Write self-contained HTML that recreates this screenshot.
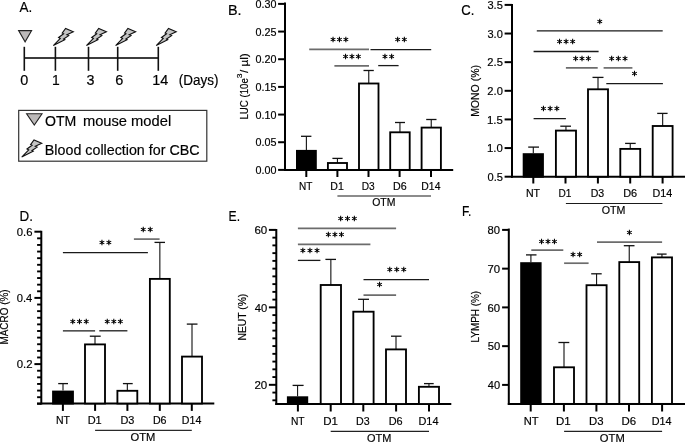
<!DOCTYPE html>
<html><head><meta charset="utf-8"><style>
html,body{margin:0;padding:0;background:#fff;}
body{width:685px;height:442px;overflow:hidden;}
svg{display:block;will-change:transform;}
text{stroke:#000;stroke-width:0.18px;font-family:"Liberation Sans",sans-serif;}
</style></head><body>
<svg width="685" height="442" viewBox="0 0 685 442">

<text x="19.57" y="11.70" font-size="14.54" textLength="12.76" lengthAdjust="spacingAndGlyphs" fill="#000">A.</text>
<polygon points="18.6,30.6 31.6,30.6 25.1,41.8" fill="#bcb9b9" stroke="#222" stroke-width="1.1"/>
<line x1="24.30" y1="57.90" x2="158.30" y2="57.90" stroke="#3c3c3c" stroke-width="2.0"/>
<line x1="24.30" y1="46.80" x2="24.30" y2="70.80" stroke="#111" stroke-width="1.6"/>
<line x1="55.40" y1="46.80" x2="55.40" y2="70.80" stroke="#111" stroke-width="1.6"/>
<line x1="88.50" y1="46.80" x2="88.50" y2="70.80" stroke="#111" stroke-width="1.6"/>
<line x1="117.70" y1="46.80" x2="117.70" y2="70.80" stroke="#111" stroke-width="1.6"/>
<line x1="158.30" y1="46.80" x2="158.30" y2="70.80" stroke="#111" stroke-width="1.6"/>
<polygon points="53.30,45.60 60.30,38.40 58.60,37.50 63.60,33.80 62.20,33.10 65.60,28.50 73.30,31.80 66.90,34.80 68.70,35.60 63.60,39.00 64.80,39.70" fill="#c4c4c4" stroke="#111" stroke-width="1.1" stroke-linejoin="miter"/>
<polygon points="86.40,45.60 93.40,38.40 91.70,37.50 96.70,33.80 95.30,33.10 98.70,28.50 106.40,31.80 100.00,34.80 101.80,35.60 96.70,39.00 97.90,39.70" fill="#c4c4c4" stroke="#111" stroke-width="1.1" stroke-linejoin="miter"/>
<polygon points="115.60,45.60 122.60,38.40 120.90,37.50 125.90,33.80 124.50,33.10 127.90,28.50 135.60,31.80 129.20,34.80 131.00,35.60 125.90,39.00 127.10,39.70" fill="#c4c4c4" stroke="#111" stroke-width="1.1" stroke-linejoin="miter"/>
<polygon points="156.20,45.60 163.20,38.40 161.50,37.50 166.50,33.80 165.10,33.10 168.50,28.50 176.20,31.80 169.80,34.80 171.60,35.60 166.50,39.00 167.70,39.70" fill="#c4c4c4" stroke="#111" stroke-width="1.1" stroke-linejoin="miter"/>
<text x="20.24" y="84.50" font-size="14.54" textLength="8.03" lengthAdjust="spacingAndGlyphs" fill="#000">0</text>
<text x="51.94" y="84.50" font-size="14.54" textLength="7.74" lengthAdjust="spacingAndGlyphs" fill="#000">1</text>
<text x="86.55" y="84.50" font-size="14.54" textLength="7.98" lengthAdjust="spacingAndGlyphs" fill="#000">3</text>
<text x="115.16" y="84.50" font-size="14.54" textLength="8.08" lengthAdjust="spacingAndGlyphs" fill="#000">6</text>
<text x="152.30" y="84.50" font-size="14.54" textLength="16.02" lengthAdjust="spacingAndGlyphs" fill="#000">14</text>
<text x="178.76" y="84.60" font-size="14.24" textLength="39.67" lengthAdjust="spacingAndGlyphs" fill="#000">(Days)</text>
<rect x="18.7" y="110.4" width="188.1" height="50.8" fill="none" stroke="#333" stroke-width="1.2"/>
<polygon points="26.6,113.7 42.0,113.7 34.3,125.0" fill="#bcb9b9" stroke="#222" stroke-width="1.1"/>
<text x="45.03" y="125.70" font-size="14.24" textLength="31.32" lengthAdjust="spacingAndGlyphs" fill="#000">OTM</text>
<text x="82.92" y="125.70" font-size="14.24" textLength="88.26" lengthAdjust="spacingAndGlyphs" fill="#000">mouse model</text>
<polygon points="21.70,157.10 28.70,149.90 27.00,149.00 32.00,145.30 30.60,144.60 34.00,140.00 41.70,143.30 35.30,146.30 37.10,147.10 32.00,150.50 33.20,151.20" fill="#c4c4c4" stroke="#111" stroke-width="1.1" stroke-linejoin="miter"/>
<text x="44.83" y="154.70" font-size="14.24" textLength="154.71" lengthAdjust="spacingAndGlyphs" fill="#000">Blood collection for CBC</text>
<text x="227.92" y="14.90" font-size="13.95" textLength="13.59" lengthAdjust="spacingAndGlyphs" fill="#000">B.</text>
<line x1="285.00" y1="2.60" x2="285.00" y2="170.90" stroke="#000" stroke-width="2.0"/>
<line x1="284.00" y1="169.90" x2="453.20" y2="169.90" stroke="#000" stroke-width="2.0"/>
<line x1="278.10" y1="3.90" x2="285.00" y2="3.90" stroke="#000" stroke-width="2.0"/>
<text x="255.48" y="8.00" font-size="10.76" textLength="20.94" lengthAdjust="spacingAndGlyphs" fill="#000">0.30</text>
<line x1="278.10" y1="31.57" x2="285.00" y2="31.57" stroke="#000" stroke-width="2.0"/>
<text x="255.48" y="35.67" font-size="10.76" textLength="20.97" lengthAdjust="spacingAndGlyphs" fill="#000">0.25</text>
<line x1="278.10" y1="59.23" x2="285.00" y2="59.23" stroke="#000" stroke-width="2.0"/>
<text x="255.48" y="63.33" font-size="10.76" textLength="20.94" lengthAdjust="spacingAndGlyphs" fill="#000">0.20</text>
<line x1="278.10" y1="86.90" x2="285.00" y2="86.90" stroke="#000" stroke-width="2.0"/>
<text x="255.48" y="91.00" font-size="10.76" textLength="20.97" lengthAdjust="spacingAndGlyphs" fill="#000">0.15</text>
<line x1="278.10" y1="114.57" x2="285.00" y2="114.57" stroke="#000" stroke-width="2.0"/>
<text x="255.48" y="118.67" font-size="10.76" textLength="20.94" lengthAdjust="spacingAndGlyphs" fill="#000">0.10</text>
<line x1="278.10" y1="142.23" x2="285.00" y2="142.23" stroke="#000" stroke-width="2.0"/>
<text x="255.48" y="146.33" font-size="10.76" textLength="20.97" lengthAdjust="spacingAndGlyphs" fill="#000">0.05</text>
<line x1="278.10" y1="169.90" x2="285.00" y2="169.90" stroke="#000" stroke-width="2.0"/>
<text x="255.48" y="174.00" font-size="10.76" textLength="20.94" lengthAdjust="spacingAndGlyphs" fill="#000">0.00</text>
<line x1="306.30" y1="169.90" x2="306.30" y2="177.00" stroke="#000" stroke-width="2.0"/>
<line x1="337.40" y1="169.90" x2="337.40" y2="177.00" stroke="#000" stroke-width="2.0"/>
<line x1="368.50" y1="169.90" x2="368.50" y2="177.00" stroke="#000" stroke-width="2.0"/>
<line x1="399.60" y1="169.90" x2="399.60" y2="177.00" stroke="#000" stroke-width="2.0"/>
<line x1="431.00" y1="169.90" x2="431.00" y2="177.00" stroke="#000" stroke-width="2.0"/>
<line x1="306.40" y1="136.30" x2="306.40" y2="149.90" stroke="#1a1a1a" stroke-width="1.15"/>
<line x1="301.00" y1="136.30" x2="311.40" y2="136.30" stroke="#111" stroke-width="1.3"/>
<rect x="296.00" y="149.90" width="20.80" height="21.00" fill="#000"/>
<line x1="337.45" y1="158.40" x2="337.45" y2="163.00" stroke="#1a1a1a" stroke-width="1.15"/>
<line x1="332.40" y1="158.40" x2="342.60" y2="158.40" stroke="#111" stroke-width="1.3"/>
<rect x="327.90" y="163.00" width="19.10" height="6.90" fill="#fff" stroke="#000" stroke-width="1.85"/>
<line x1="368.75" y1="70.50" x2="368.75" y2="83.50" stroke="#1a1a1a" stroke-width="1.15"/>
<line x1="363.50" y1="70.50" x2="373.80" y2="70.50" stroke="#111" stroke-width="1.3"/>
<rect x="359.00" y="83.50" width="19.50" height="86.40" fill="#fff" stroke="#000" stroke-width="1.85"/>
<line x1="399.95" y1="122.50" x2="399.95" y2="132.30" stroke="#1a1a1a" stroke-width="1.15"/>
<line x1="395.00" y1="122.50" x2="405.00" y2="122.50" stroke="#111" stroke-width="1.3"/>
<rect x="390.20" y="132.30" width="19.50" height="37.60" fill="#fff" stroke="#000" stroke-width="1.85"/>
<line x1="431.25" y1="119.50" x2="431.25" y2="127.60" stroke="#1a1a1a" stroke-width="1.15"/>
<line x1="426.20" y1="119.50" x2="436.50" y2="119.50" stroke="#111" stroke-width="1.3"/>
<rect x="421.60" y="127.60" width="19.30" height="42.30" fill="#fff" stroke="#000" stroke-width="1.85"/>
<text x="298.98" y="190.00" font-size="11.05" textLength="13.35" lengthAdjust="spacingAndGlyphs" fill="#000">NT</text>
<text x="330.33" y="190.00" font-size="11.05" textLength="13.48" lengthAdjust="spacingAndGlyphs" fill="#000">D1</text>
<text x="361.77" y="190.00" font-size="11.05" textLength="12.98" lengthAdjust="spacingAndGlyphs" fill="#000">D3</text>
<text x="393.02" y="190.00" font-size="11.05" textLength="13.64" lengthAdjust="spacingAndGlyphs" fill="#000">D6</text>
<text x="421.35" y="190.00" font-size="11.05" textLength="19.06" lengthAdjust="spacingAndGlyphs" fill="#000">D14</text>
<line x1="337.40" y1="196.00" x2="431.00" y2="196.00" stroke="#666" stroke-width="1.4"/>
<text x="372.20" y="206.20" font-size="10.76" textLength="23.25" lengthAdjust="spacingAndGlyphs" fill="#000">OTM</text>
<line x1="309.20" y1="49.40" x2="369.00" y2="49.40" stroke="#6c6c6c" stroke-width="1.7"/>
<path d="M333.05 36.75L333.05 42.25M330.67 38.12L335.43 40.88M330.67 40.88L335.43 38.12" stroke="#000" stroke-width="1.05" fill="none"/>
<circle cx="333.05" cy="39.50" r="1.05" fill="#000"/>
<path d="M339.45 36.75L339.45 42.25M337.07 38.12L341.83 40.88M337.07 40.88L341.83 38.12" stroke="#000" stroke-width="1.05" fill="none"/>
<circle cx="339.45" cy="39.50" r="1.05" fill="#000"/>
<path d="M345.85 36.75L345.85 42.25M343.47 38.12L348.23 40.88M343.47 40.88L348.23 38.12" stroke="#000" stroke-width="1.05" fill="none"/>
<circle cx="345.85" cy="39.50" r="1.05" fill="#000"/>
<line x1="370.50" y1="49.70" x2="431.20" y2="49.70" stroke="#1a1a1a" stroke-width="1.3"/>
<path d="M397.65 36.75L397.65 42.25M395.27 38.12L400.03 40.88M395.27 40.88L400.03 38.12" stroke="#000" stroke-width="1.05" fill="none"/>
<circle cx="397.65" cy="39.50" r="1.05" fill="#000"/>
<path d="M404.35 36.75L404.35 42.25M401.97 38.12L406.73 40.88M401.97 40.88L406.73 38.12" stroke="#000" stroke-width="1.05" fill="none"/>
<circle cx="404.35" cy="39.50" r="1.05" fill="#000"/>
<line x1="334.40" y1="65.80" x2="369.00" y2="65.80" stroke="#6c6c6c" stroke-width="1.7"/>
<path d="M345.55 53.75L345.55 59.25M343.17 55.12L347.93 57.88M343.17 57.88L347.93 55.12" stroke="#000" stroke-width="1.05" fill="none"/>
<circle cx="345.55" cy="56.50" r="1.05" fill="#000"/>
<path d="M351.95 53.75L351.95 59.25M349.57 55.12L354.33 57.88M349.57 57.88L354.33 55.12" stroke="#000" stroke-width="1.05" fill="none"/>
<circle cx="351.95" cy="56.50" r="1.05" fill="#000"/>
<path d="M358.35 53.75L358.35 59.25M355.97 55.12L360.73 57.88M355.97 57.88L360.73 55.12" stroke="#000" stroke-width="1.05" fill="none"/>
<circle cx="358.35" cy="56.50" r="1.05" fill="#000"/>
<line x1="378.20" y1="65.60" x2="398.60" y2="65.60" stroke="#1a1a1a" stroke-width="1.3"/>
<path d="M384.95 53.75L384.95 59.25M382.57 55.12L387.33 57.88M382.57 57.88L387.33 55.12" stroke="#000" stroke-width="1.05" fill="none"/>
<circle cx="384.95" cy="56.50" r="1.05" fill="#000"/>
<path d="M391.65 53.75L391.65 59.25M389.27 55.12L394.03 57.88M389.27 57.88L394.03 55.12" stroke="#000" stroke-width="1.05" fill="none"/>
<circle cx="391.65" cy="56.50" r="1.05" fill="#000"/>
<text transform="translate(248.00,118.80) rotate(-90)" x="-0.79" y="0" font-size="11.05" textLength="41.42" lengthAdjust="spacingAndGlyphs" fill="#000">LUC (10e</text>
<text transform="translate(241.60,78.00) rotate(-90)" x="-0.33" y="0" font-size="6.69" textLength="4.81" lengthAdjust="spacingAndGlyphs" fill="#000">3</text>
<text transform="translate(248.00,73.00) rotate(-90)" x="0.00" y="0" font-size="11.05" textLength="19.73" lengthAdjust="spacingAndGlyphs" fill="#000">/ µl)</text>
<text x="461.24" y="15.40" font-size="13.95" textLength="13.05" lengthAdjust="spacingAndGlyphs" fill="#000">C.</text>
<line x1="512.00" y1="4.00" x2="512.00" y2="177.70" stroke="#000" stroke-width="2.0"/>
<line x1="511.00" y1="176.70" x2="685.00" y2="176.70" stroke="#000" stroke-width="2.0"/>
<line x1="504.60" y1="4.90" x2="512.00" y2="4.90" stroke="#000" stroke-width="2.0"/>
<text x="487.48" y="9.10" font-size="11.05" textLength="15.39" lengthAdjust="spacingAndGlyphs" fill="#000">3.5</text>
<line x1="504.60" y1="33.53" x2="512.00" y2="33.53" stroke="#000" stroke-width="2.0"/>
<text x="487.48" y="37.73" font-size="11.05" textLength="15.35" lengthAdjust="spacingAndGlyphs" fill="#000">3.0</text>
<line x1="504.60" y1="62.17" x2="512.00" y2="62.17" stroke="#000" stroke-width="2.0"/>
<text x="487.34" y="66.37" font-size="11.05" textLength="15.53" lengthAdjust="spacingAndGlyphs" fill="#000">2.5</text>
<line x1="504.60" y1="90.80" x2="512.00" y2="90.80" stroke="#000" stroke-width="2.0"/>
<text x="487.34" y="95.00" font-size="11.05" textLength="15.50" lengthAdjust="spacingAndGlyphs" fill="#000">2.0</text>
<line x1="504.60" y1="119.43" x2="512.00" y2="119.43" stroke="#000" stroke-width="2.0"/>
<text x="487.03" y="123.63" font-size="11.05" textLength="15.85" lengthAdjust="spacingAndGlyphs" fill="#000">1.5</text>
<line x1="504.60" y1="148.07" x2="512.00" y2="148.07" stroke="#000" stroke-width="2.0"/>
<text x="487.03" y="152.27" font-size="11.05" textLength="15.81" lengthAdjust="spacingAndGlyphs" fill="#000">1.0</text>
<line x1="504.60" y1="176.70" x2="512.00" y2="176.70" stroke="#000" stroke-width="2.0"/>
<text x="487.47" y="180.90" font-size="11.05" textLength="15.40" lengthAdjust="spacingAndGlyphs" fill="#000">0.5</text>
<line x1="533.30" y1="176.70" x2="533.30" y2="183.50" stroke="#000" stroke-width="2.0"/>
<line x1="565.50" y1="176.70" x2="565.50" y2="183.50" stroke="#000" stroke-width="2.0"/>
<line x1="597.90" y1="176.70" x2="597.90" y2="183.50" stroke="#000" stroke-width="2.0"/>
<line x1="630.20" y1="176.70" x2="630.20" y2="183.50" stroke="#000" stroke-width="2.0"/>
<line x1="662.60" y1="176.70" x2="662.60" y2="183.50" stroke="#000" stroke-width="2.0"/>
<line x1="533.30" y1="147.10" x2="533.30" y2="153.20" stroke="#1a1a1a" stroke-width="1.15"/>
<line x1="528.20" y1="147.10" x2="539.00" y2="147.10" stroke="#111" stroke-width="1.3"/>
<rect x="522.70" y="153.20" width="21.20" height="24.50" fill="#000"/>
<line x1="565.95" y1="126.20" x2="565.95" y2="130.60" stroke="#1a1a1a" stroke-width="1.15"/>
<line x1="560.30" y1="126.20" x2="571.00" y2="126.20" stroke="#111" stroke-width="1.3"/>
<rect x="555.90" y="130.60" width="20.10" height="46.10" fill="#fff" stroke="#000" stroke-width="1.85"/>
<line x1="598.00" y1="77.40" x2="598.00" y2="89.30" stroke="#1a1a1a" stroke-width="1.15"/>
<line x1="592.50" y1="77.40" x2="603.50" y2="77.40" stroke="#111" stroke-width="1.3"/>
<rect x="588.00" y="89.30" width="20.00" height="87.40" fill="#fff" stroke="#000" stroke-width="1.85"/>
<line x1="630.25" y1="143.40" x2="630.25" y2="148.90" stroke="#1a1a1a" stroke-width="1.15"/>
<line x1="625.10" y1="143.40" x2="635.70" y2="143.40" stroke="#111" stroke-width="1.3"/>
<rect x="620.30" y="148.90" width="19.90" height="27.80" fill="#fff" stroke="#000" stroke-width="1.85"/>
<line x1="662.65" y1="113.40" x2="662.65" y2="126.00" stroke="#1a1a1a" stroke-width="1.15"/>
<line x1="657.20" y1="113.40" x2="667.60" y2="113.40" stroke="#111" stroke-width="1.3"/>
<rect x="652.70" y="126.00" width="19.90" height="50.70" fill="#fff" stroke="#000" stroke-width="1.85"/>
<text x="525.93" y="197.00" font-size="11.05" textLength="14.11" lengthAdjust="spacingAndGlyphs" fill="#000">NT</text>
<text x="558.57" y="197.00" font-size="11.05" textLength="12.92" lengthAdjust="spacingAndGlyphs" fill="#000">D1</text>
<text x="590.73" y="197.00" font-size="11.05" textLength="13.53" lengthAdjust="spacingAndGlyphs" fill="#000">D3</text>
<text x="623.20" y="197.00" font-size="11.05" textLength="13.98" lengthAdjust="spacingAndGlyphs" fill="#000">D6</text>
<text x="652.51" y="197.00" font-size="11.05" textLength="19.80" lengthAdjust="spacingAndGlyphs" fill="#000">D14</text>
<line x1="565.90" y1="203.50" x2="662.40" y2="203.50" stroke="#1a1a1a" stroke-width="1.2"/>
<text x="601.70" y="214.20" font-size="11.05" textLength="23.68" lengthAdjust="spacingAndGlyphs" fill="#000">OTM</text>
<line x1="536.80" y1="30.90" x2="662.70" y2="30.90" stroke="#1a1a1a" stroke-width="1.3"/>
<path d="M599.75 18.75L599.75 24.25M597.37 20.12L602.13 22.88M597.37 22.88L602.13 20.12" stroke="#000" stroke-width="1.05" fill="none"/>
<circle cx="599.75" cy="21.50" r="1.05" fill="#000"/>
<line x1="533.60" y1="51.50" x2="598.60" y2="51.50" stroke="#1a1a1a" stroke-width="1.3"/>
<path d="M559.55 38.75L559.55 44.25M557.17 40.12L561.93 42.88M557.17 42.88L561.93 40.12" stroke="#000" stroke-width="1.05" fill="none"/>
<circle cx="559.55" cy="41.50" r="1.05" fill="#000"/>
<path d="M566.10 38.75L566.10 44.25M563.72 40.12L568.48 42.88M563.72 42.88L568.48 40.12" stroke="#000" stroke-width="1.05" fill="none"/>
<circle cx="566.10" cy="41.50" r="1.05" fill="#000"/>
<path d="M572.65 38.75L572.65 44.25M570.27 40.12L575.03 42.88M570.27 42.88L575.03 40.12" stroke="#000" stroke-width="1.05" fill="none"/>
<circle cx="572.65" cy="41.50" r="1.05" fill="#000"/>
<line x1="565.90" y1="67.90" x2="597.70" y2="67.90" stroke="#6c6c6c" stroke-width="1.7"/>
<path d="M575.65 55.75L575.65 61.25M573.27 57.12L578.03 59.88M573.27 59.88L578.03 57.12" stroke="#000" stroke-width="1.05" fill="none"/>
<circle cx="575.65" cy="58.50" r="1.05" fill="#000"/>
<path d="M582.00 55.75L582.00 61.25M579.62 57.12L584.38 59.88M579.62 59.88L584.38 57.12" stroke="#000" stroke-width="1.05" fill="none"/>
<circle cx="582.00" cy="58.50" r="1.05" fill="#000"/>
<path d="M588.35 55.75L588.35 61.25M585.97 57.12L590.73 59.88M585.97 59.88L590.73 57.12" stroke="#000" stroke-width="1.05" fill="none"/>
<circle cx="588.35" cy="58.50" r="1.05" fill="#000"/>
<line x1="603.60" y1="67.90" x2="632.40" y2="67.90" stroke="#6c6c6c" stroke-width="1.7"/>
<path d="M611.65 55.75L611.65 61.25M609.27 57.12L614.03 59.88M609.27 59.88L614.03 57.12" stroke="#000" stroke-width="1.05" fill="none"/>
<circle cx="611.65" cy="58.50" r="1.05" fill="#000"/>
<path d="M618.35 55.75L618.35 61.25M615.97 57.12L620.73 59.88M615.97 59.88L620.73 57.12" stroke="#000" stroke-width="1.05" fill="none"/>
<circle cx="618.35" cy="58.50" r="1.05" fill="#000"/>
<path d="M625.05 55.75L625.05 61.25M622.67 57.12L627.43 59.88M622.67 59.88L627.43 57.12" stroke="#000" stroke-width="1.05" fill="none"/>
<circle cx="625.05" cy="58.50" r="1.05" fill="#000"/>
<line x1="606.30" y1="83.70" x2="662.90" y2="83.70" stroke="#1a1a1a" stroke-width="1.3"/>
<path d="M634.50 70.75L634.50 76.25M632.12 72.12L636.88 74.88M632.12 74.88L636.88 72.12" stroke="#000" stroke-width="1.05" fill="none"/>
<circle cx="634.50" cy="73.50" r="1.05" fill="#000"/>
<line x1="533.60" y1="118.70" x2="565.90" y2="118.70" stroke="#1a1a1a" stroke-width="1.3"/>
<path d="M543.45 105.75L543.45 111.25M541.07 107.12L545.83 109.88M541.07 109.88L545.83 107.12" stroke="#000" stroke-width="1.05" fill="none"/>
<circle cx="543.45" cy="108.50" r="1.05" fill="#000"/>
<path d="M550.15 105.75L550.15 111.25M547.77 107.12L552.53 109.88M547.77 109.88L552.53 107.12" stroke="#000" stroke-width="1.05" fill="none"/>
<circle cx="550.15" cy="108.50" r="1.05" fill="#000"/>
<path d="M556.85 105.75L556.85 111.25M554.47 107.12L559.23 109.88M554.47 109.88L559.23 107.12" stroke="#000" stroke-width="1.05" fill="none"/>
<circle cx="556.85" cy="108.50" r="1.05" fill="#000"/>
<text transform="translate(478.80,116.00) rotate(-90)" x="-0.86" y="0" font-size="11.19" textLength="51.81" lengthAdjust="spacingAndGlyphs" fill="#000">MONO (%)</text>
<text x="19.50" y="220.60" font-size="14.68" textLength="13.43" lengthAdjust="spacingAndGlyphs" fill="#000">D.</text>
<line x1="41.30" y1="230.80" x2="41.30" y2="404.50" stroke="#000" stroke-width="2.0"/>
<line x1="37.00" y1="403.50" x2="214.30" y2="403.50" stroke="#000" stroke-width="2.0"/>
<line x1="37.10" y1="403.82" x2="41.30" y2="403.82" stroke="#000" stroke-width="1.9"/>
<line x1="37.10" y1="397.20" x2="41.30" y2="397.20" stroke="#000" stroke-width="1.9"/>
<line x1="37.10" y1="390.58" x2="41.30" y2="390.58" stroke="#000" stroke-width="1.9"/>
<line x1="37.10" y1="383.96" x2="41.30" y2="383.96" stroke="#000" stroke-width="1.9"/>
<line x1="37.10" y1="377.34" x2="41.30" y2="377.34" stroke="#000" stroke-width="1.9"/>
<line x1="37.10" y1="370.72" x2="41.30" y2="370.72" stroke="#000" stroke-width="1.9"/>
<line x1="34.40" y1="364.10" x2="41.30" y2="364.10" stroke="#000" stroke-width="2.0"/>
<line x1="37.10" y1="357.48" x2="41.30" y2="357.48" stroke="#000" stroke-width="1.9"/>
<line x1="37.10" y1="350.86" x2="41.30" y2="350.86" stroke="#000" stroke-width="1.9"/>
<line x1="37.10" y1="344.24" x2="41.30" y2="344.24" stroke="#000" stroke-width="1.9"/>
<line x1="37.10" y1="337.62" x2="41.30" y2="337.62" stroke="#000" stroke-width="1.9"/>
<line x1="37.10" y1="331.00" x2="41.30" y2="331.00" stroke="#000" stroke-width="1.9"/>
<line x1="37.10" y1="324.38" x2="41.30" y2="324.38" stroke="#000" stroke-width="1.9"/>
<line x1="37.10" y1="317.76" x2="41.30" y2="317.76" stroke="#000" stroke-width="1.9"/>
<line x1="37.10" y1="311.14" x2="41.30" y2="311.14" stroke="#000" stroke-width="1.9"/>
<line x1="37.10" y1="304.52" x2="41.30" y2="304.52" stroke="#000" stroke-width="1.9"/>
<line x1="34.40" y1="297.90" x2="41.30" y2="297.90" stroke="#000" stroke-width="2.0"/>
<line x1="37.10" y1="291.28" x2="41.30" y2="291.28" stroke="#000" stroke-width="1.9"/>
<line x1="37.10" y1="284.66" x2="41.30" y2="284.66" stroke="#000" stroke-width="1.9"/>
<line x1="37.10" y1="278.04" x2="41.30" y2="278.04" stroke="#000" stroke-width="1.9"/>
<line x1="37.10" y1="271.42" x2="41.30" y2="271.42" stroke="#000" stroke-width="1.9"/>
<line x1="37.10" y1="264.80" x2="41.30" y2="264.80" stroke="#000" stroke-width="1.9"/>
<line x1="37.10" y1="258.18" x2="41.30" y2="258.18" stroke="#000" stroke-width="1.9"/>
<line x1="37.10" y1="251.56" x2="41.30" y2="251.56" stroke="#000" stroke-width="1.9"/>
<line x1="37.10" y1="244.94" x2="41.30" y2="244.94" stroke="#000" stroke-width="1.9"/>
<line x1="37.10" y1="238.32" x2="41.30" y2="238.32" stroke="#000" stroke-width="1.9"/>
<line x1="34.40" y1="231.70" x2="41.30" y2="231.70" stroke="#000" stroke-width="2.0"/>
<text x="16.76" y="235.70" font-size="11.34" textLength="15.74" lengthAdjust="spacingAndGlyphs" fill="#000">0.6</text>
<text x="16.76" y="301.90" font-size="11.34" textLength="15.57" lengthAdjust="spacingAndGlyphs" fill="#000">0.4</text>
<text x="16.76" y="368.10" font-size="11.34" textLength="15.82" lengthAdjust="spacingAndGlyphs" fill="#000">0.2</text>
<line x1="62.90" y1="403.50" x2="62.90" y2="410.90" stroke="#000" stroke-width="2.0"/>
<line x1="95.10" y1="403.50" x2="95.10" y2="410.90" stroke="#000" stroke-width="2.0"/>
<line x1="127.40" y1="403.50" x2="127.40" y2="410.90" stroke="#000" stroke-width="2.0"/>
<line x1="159.80" y1="403.50" x2="159.80" y2="410.90" stroke="#000" stroke-width="2.0"/>
<line x1="191.80" y1="403.50" x2="191.80" y2="410.90" stroke="#000" stroke-width="2.0"/>
<line x1="63.00" y1="383.60" x2="63.00" y2="390.60" stroke="#1a1a1a" stroke-width="1.15"/>
<line x1="58.20" y1="383.60" x2="68.00" y2="383.60" stroke="#111" stroke-width="1.3"/>
<rect x="52.10" y="390.60" width="21.80" height="13.90" fill="#000"/>
<line x1="95.00" y1="336.20" x2="95.00" y2="344.40" stroke="#1a1a1a" stroke-width="1.15"/>
<line x1="89.80" y1="336.20" x2="100.70" y2="336.20" stroke="#111" stroke-width="1.3"/>
<rect x="85.00" y="344.40" width="20.00" height="59.10" fill="#fff" stroke="#000" stroke-width="1.85"/>
<line x1="127.35" y1="383.60" x2="127.35" y2="390.80" stroke="#1a1a1a" stroke-width="1.15"/>
<line x1="122.90" y1="383.60" x2="132.70" y2="383.60" stroke="#111" stroke-width="1.3"/>
<rect x="117.40" y="390.80" width="19.90" height="12.70" fill="#fff" stroke="#000" stroke-width="1.85"/>
<line x1="159.85" y1="242.40" x2="159.85" y2="278.90" stroke="#1a1a1a" stroke-width="1.15"/>
<line x1="154.50" y1="242.40" x2="165.00" y2="242.40" stroke="#111" stroke-width="1.3"/>
<rect x="149.90" y="278.90" width="19.90" height="124.60" fill="#fff" stroke="#000" stroke-width="1.85"/>
<line x1="192.00" y1="324.10" x2="192.00" y2="356.60" stroke="#1a1a1a" stroke-width="1.15"/>
<line x1="186.80" y1="324.10" x2="197.50" y2="324.10" stroke="#111" stroke-width="1.3"/>
<rect x="182.00" y="356.60" width="20.00" height="46.90" fill="#fff" stroke="#000" stroke-width="1.85"/>
<text x="55.94" y="423.80" font-size="11.05" textLength="14.00" lengthAdjust="spacingAndGlyphs" fill="#000">NT</text>
<text x="87.70" y="423.80" font-size="11.05" textLength="14.04" lengthAdjust="spacingAndGlyphs" fill="#000">D1</text>
<text x="120.40" y="423.80" font-size="11.05" textLength="13.98" lengthAdjust="spacingAndGlyphs" fill="#000">D3</text>
<text x="152.92" y="423.80" font-size="11.05" textLength="13.64" lengthAdjust="spacingAndGlyphs" fill="#000">D6</text>
<text x="181.83" y="423.80" font-size="11.05" textLength="19.48" lengthAdjust="spacingAndGlyphs" fill="#000">D14</text>
<line x1="95.10" y1="430.40" x2="191.80" y2="430.40" stroke="#2a2a2a" stroke-width="1.3"/>
<text x="130.57" y="440.60" font-size="10.90" textLength="24.85" lengthAdjust="spacingAndGlyphs" fill="#000">OTM</text>
<line x1="133.90" y1="239.10" x2="159.60" y2="239.10" stroke="#6c6c6c" stroke-width="1.7"/>
<path d="M143.25 226.75L143.25 232.25M140.87 228.12L145.63 230.88M140.87 230.88L145.63 228.12" stroke="#000" stroke-width="1.05" fill="none"/>
<circle cx="143.25" cy="229.50" r="1.05" fill="#000"/>
<path d="M150.25 226.75L150.25 232.25M147.87 228.12L152.63 230.88M147.87 230.88L152.63 228.12" stroke="#000" stroke-width="1.05" fill="none"/>
<circle cx="150.25" cy="229.50" r="1.05" fill="#000"/>
<line x1="62.90" y1="252.70" x2="147.90" y2="252.70" stroke="#1a1a1a" stroke-width="1.3"/>
<path d="M101.95 239.75L101.95 245.25M99.57 241.12L104.33 243.88M99.57 243.88L104.33 241.12" stroke="#000" stroke-width="1.05" fill="none"/>
<circle cx="101.95" cy="242.50" r="1.05" fill="#000"/>
<path d="M108.85 239.75L108.85 245.25M106.47 241.12L111.23 243.88M106.47 243.88L111.23 241.12" stroke="#000" stroke-width="1.05" fill="none"/>
<circle cx="108.85" cy="242.50" r="1.05" fill="#000"/>
<line x1="62.90" y1="330.80" x2="95.10" y2="330.80" stroke="#1a1a1a" stroke-width="1.3"/>
<path d="M72.75 318.75L72.75 324.25M70.37 320.12L75.13 322.88M70.37 322.88L75.13 320.12" stroke="#000" stroke-width="1.05" fill="none"/>
<circle cx="72.75" cy="321.50" r="1.05" fill="#000"/>
<path d="M79.50 318.75L79.50 324.25M77.12 320.12L81.88 322.88M77.12 322.88L81.88 320.12" stroke="#000" stroke-width="1.05" fill="none"/>
<circle cx="79.50" cy="321.50" r="1.05" fill="#000"/>
<path d="M86.25 318.75L86.25 324.25M83.87 320.12L88.63 322.88M83.87 322.88L88.63 320.12" stroke="#000" stroke-width="1.05" fill="none"/>
<circle cx="86.25" cy="321.50" r="1.05" fill="#000"/>
<line x1="99.30" y1="330.80" x2="127.40" y2="330.80" stroke="#1a1a1a" stroke-width="1.3"/>
<path d="M107.25 318.75L107.25 324.25M104.87 320.12L109.63 322.88M104.87 322.88L109.63 320.12" stroke="#000" stroke-width="1.05" fill="none"/>
<circle cx="107.25" cy="321.50" r="1.05" fill="#000"/>
<path d="M113.80 318.75L113.80 324.25M111.42 320.12L116.18 322.88M111.42 322.88L116.18 320.12" stroke="#000" stroke-width="1.05" fill="none"/>
<circle cx="113.80" cy="321.50" r="1.05" fill="#000"/>
<path d="M120.35 318.75L120.35 324.25M117.97 320.12L122.73 322.88M117.97 322.88L122.73 320.12" stroke="#000" stroke-width="1.05" fill="none"/>
<circle cx="120.35" cy="321.50" r="1.05" fill="#000"/>
<text transform="translate(8.20,343.80) rotate(-90)" x="-0.82" y="0" font-size="10.17" textLength="55.23" lengthAdjust="spacingAndGlyphs" fill="#000">MACRO (%)</text>
<text x="228.60" y="220.60" font-size="14.83" textLength="11.51" lengthAdjust="spacingAndGlyphs" fill="#000">E.</text>
<line x1="276.30" y1="229.00" x2="276.30" y2="405.00" stroke="#000" stroke-width="2.0"/>
<line x1="275.30" y1="404.00" x2="451.30" y2="404.00" stroke="#000" stroke-width="2.0"/>
<line x1="272.40" y1="400.31" x2="276.30" y2="400.31" stroke="#000" stroke-width="1.9"/>
<line x1="272.40" y1="392.57" x2="276.30" y2="392.57" stroke="#000" stroke-width="1.9"/>
<line x1="268.90" y1="384.82" x2="276.30" y2="384.82" stroke="#000" stroke-width="2.0"/>
<line x1="272.40" y1="377.07" x2="276.30" y2="377.07" stroke="#000" stroke-width="1.9"/>
<line x1="272.40" y1="369.33" x2="276.30" y2="369.33" stroke="#000" stroke-width="1.9"/>
<line x1="272.40" y1="361.58" x2="276.30" y2="361.58" stroke="#000" stroke-width="1.9"/>
<line x1="272.40" y1="353.84" x2="276.30" y2="353.84" stroke="#000" stroke-width="1.9"/>
<line x1="272.40" y1="346.09" x2="276.30" y2="346.09" stroke="#000" stroke-width="1.9"/>
<line x1="272.40" y1="338.34" x2="276.30" y2="338.34" stroke="#000" stroke-width="1.9"/>
<line x1="272.40" y1="330.60" x2="276.30" y2="330.60" stroke="#000" stroke-width="1.9"/>
<line x1="272.40" y1="322.85" x2="276.30" y2="322.85" stroke="#000" stroke-width="1.9"/>
<line x1="272.40" y1="315.11" x2="276.30" y2="315.11" stroke="#000" stroke-width="1.9"/>
<line x1="268.90" y1="307.36" x2="276.30" y2="307.36" stroke="#000" stroke-width="2.0"/>
<line x1="272.40" y1="299.61" x2="276.30" y2="299.61" stroke="#000" stroke-width="1.9"/>
<line x1="272.40" y1="291.87" x2="276.30" y2="291.87" stroke="#000" stroke-width="1.9"/>
<line x1="272.40" y1="284.12" x2="276.30" y2="284.12" stroke="#000" stroke-width="1.9"/>
<line x1="272.40" y1="276.38" x2="276.30" y2="276.38" stroke="#000" stroke-width="1.9"/>
<line x1="272.40" y1="268.63" x2="276.30" y2="268.63" stroke="#000" stroke-width="1.9"/>
<line x1="272.40" y1="260.88" x2="276.30" y2="260.88" stroke="#000" stroke-width="1.9"/>
<line x1="272.40" y1="253.14" x2="276.30" y2="253.14" stroke="#000" stroke-width="1.9"/>
<line x1="272.40" y1="245.39" x2="276.30" y2="245.39" stroke="#000" stroke-width="1.9"/>
<line x1="272.40" y1="237.65" x2="276.30" y2="237.65" stroke="#000" stroke-width="1.9"/>
<line x1="268.90" y1="229.90" x2="276.30" y2="229.90" stroke="#000" stroke-width="2.0"/>
<text x="254.41" y="234.10" font-size="11.63" textLength="12.84" lengthAdjust="spacingAndGlyphs" fill="#000">60</text>
<text x="254.74" y="311.56" font-size="11.63" textLength="12.50" lengthAdjust="spacingAndGlyphs" fill="#000">40</text>
<text x="254.42" y="389.02" font-size="11.63" textLength="12.83" lengthAdjust="spacingAndGlyphs" fill="#000">20</text>
<line x1="297.90" y1="404.00" x2="297.90" y2="411.50" stroke="#000" stroke-width="2.0"/>
<line x1="330.70" y1="404.00" x2="330.70" y2="411.50" stroke="#000" stroke-width="2.0"/>
<line x1="363.30" y1="404.00" x2="363.30" y2="411.50" stroke="#000" stroke-width="2.0"/>
<line x1="396.10" y1="404.00" x2="396.10" y2="411.50" stroke="#000" stroke-width="2.0"/>
<line x1="429.00" y1="404.00" x2="429.00" y2="411.50" stroke="#000" stroke-width="2.0"/>
<line x1="297.55" y1="385.40" x2="297.55" y2="396.30" stroke="#1a1a1a" stroke-width="1.15"/>
<line x1="292.60" y1="385.40" x2="303.60" y2="385.40" stroke="#111" stroke-width="1.3"/>
<rect x="286.90" y="396.30" width="21.30" height="8.70" fill="#000"/>
<line x1="330.85" y1="259.40" x2="330.85" y2="285.00" stroke="#1a1a1a" stroke-width="1.15"/>
<line x1="325.40" y1="259.40" x2="336.00" y2="259.40" stroke="#111" stroke-width="1.3"/>
<rect x="320.70" y="285.00" width="20.30" height="119.00" fill="#fff" stroke="#000" stroke-width="1.85"/>
<line x1="363.45" y1="299.30" x2="363.45" y2="311.70" stroke="#1a1a1a" stroke-width="1.15"/>
<line x1="358.10" y1="299.30" x2="369.00" y2="299.30" stroke="#111" stroke-width="1.3"/>
<rect x="353.30" y="311.70" width="20.30" height="92.30" fill="#fff" stroke="#000" stroke-width="1.85"/>
<line x1="396.00" y1="336.20" x2="396.00" y2="349.40" stroke="#1a1a1a" stroke-width="1.15"/>
<line x1="391.00" y1="336.20" x2="401.50" y2="336.20" stroke="#111" stroke-width="1.3"/>
<rect x="386.00" y="349.40" width="20.00" height="54.60" fill="#fff" stroke="#000" stroke-width="1.85"/>
<line x1="428.95" y1="383.60" x2="428.95" y2="386.80" stroke="#1a1a1a" stroke-width="1.15"/>
<line x1="424.00" y1="383.60" x2="433.70" y2="383.60" stroke="#111" stroke-width="1.3"/>
<rect x="418.90" y="386.80" width="20.10" height="17.20" fill="#fff" stroke="#000" stroke-width="1.85"/>
<text x="290.96" y="425.20" font-size="11.34" textLength="13.68" lengthAdjust="spacingAndGlyphs" fill="#000">NT</text>
<text x="323.16" y="425.20" font-size="11.34" textLength="14.71" lengthAdjust="spacingAndGlyphs" fill="#000">D1</text>
<text x="356.12" y="425.20" font-size="11.34" textLength="13.64" lengthAdjust="spacingAndGlyphs" fill="#000">D3</text>
<text x="388.70" y="425.20" font-size="11.34" textLength="13.98" lengthAdjust="spacingAndGlyphs" fill="#000">D6</text>
<text x="418.40" y="425.20" font-size="11.34" textLength="20.12" lengthAdjust="spacingAndGlyphs" fill="#000">D14</text>
<line x1="330.70" y1="431.40" x2="429.00" y2="431.40" stroke="#222" stroke-width="1.25"/>
<text x="366.98" y="441.80" font-size="11.05" textLength="24.32" lengthAdjust="spacingAndGlyphs" fill="#000">OTM</text>
<line x1="297.90" y1="228.30" x2="396.10" y2="228.30" stroke="#6c6c6c" stroke-width="1.7"/>
<path d="M340.65 215.75L340.65 221.25M338.27 217.12L343.03 219.88M338.27 219.88L343.03 217.12" stroke="#000" stroke-width="1.05" fill="none"/>
<circle cx="340.65" cy="218.50" r="1.05" fill="#000"/>
<path d="M347.50 215.75L347.50 221.25M345.12 217.12L349.88 219.88M345.12 219.88L349.88 217.12" stroke="#000" stroke-width="1.05" fill="none"/>
<circle cx="347.50" cy="218.50" r="1.05" fill="#000"/>
<path d="M354.35 215.75L354.35 221.25M351.97 217.12L356.73 219.88M351.97 219.88L356.73 217.12" stroke="#000" stroke-width="1.05" fill="none"/>
<circle cx="354.35" cy="218.50" r="1.05" fill="#000"/>
<line x1="297.90" y1="244.40" x2="370.40" y2="244.40" stroke="#6c6c6c" stroke-width="1.7"/>
<path d="M328.35 231.75L328.35 237.25M325.97 233.12L330.73 235.88M325.97 235.88L330.73 233.12" stroke="#000" stroke-width="1.05" fill="none"/>
<circle cx="328.35" cy="234.50" r="1.05" fill="#000"/>
<path d="M334.90 231.75L334.90 237.25M332.52 233.12L337.28 235.88M332.52 235.88L337.28 233.12" stroke="#000" stroke-width="1.05" fill="none"/>
<circle cx="334.90" cy="234.50" r="1.05" fill="#000"/>
<path d="M341.45 231.75L341.45 237.25M339.07 233.12L343.83 235.88M339.07 235.88L343.83 233.12" stroke="#000" stroke-width="1.05" fill="none"/>
<circle cx="341.45" cy="234.50" r="1.05" fill="#000"/>
<line x1="297.90" y1="260.40" x2="320.40" y2="260.40" stroke="#1a1a1a" stroke-width="1.3"/>
<path d="M302.85 247.75L302.85 253.25M300.47 249.12L305.23 251.88M300.47 251.88L305.23 249.12" stroke="#000" stroke-width="1.05" fill="none"/>
<circle cx="302.85" cy="250.50" r="1.05" fill="#000"/>
<path d="M309.95 247.75L309.95 253.25M307.57 249.12L312.33 251.88M307.57 251.88L312.33 249.12" stroke="#000" stroke-width="1.05" fill="none"/>
<circle cx="309.95" cy="250.50" r="1.05" fill="#000"/>
<path d="M317.05 247.75L317.05 253.25M314.67 249.12L319.43 251.88M314.67 251.88L319.43 249.12" stroke="#000" stroke-width="1.05" fill="none"/>
<circle cx="317.05" cy="250.50" r="1.05" fill="#000"/>
<line x1="363.50" y1="279.70" x2="429.00" y2="279.70" stroke="#1a1a1a" stroke-width="1.3"/>
<path d="M389.75 266.75L389.75 272.25M387.37 268.12L392.13 270.88M387.37 270.88L392.13 268.12" stroke="#000" stroke-width="1.05" fill="none"/>
<circle cx="389.75" cy="269.50" r="1.05" fill="#000"/>
<path d="M396.75 266.75L396.75 272.25M394.37 268.12L399.13 270.88M394.37 270.88L399.13 268.12" stroke="#000" stroke-width="1.05" fill="none"/>
<circle cx="396.75" cy="269.50" r="1.05" fill="#000"/>
<path d="M403.75 266.75L403.75 272.25M401.37 268.12L406.13 270.88M401.37 270.88L406.13 268.12" stroke="#000" stroke-width="1.05" fill="none"/>
<circle cx="403.75" cy="269.50" r="1.05" fill="#000"/>
<line x1="363.50" y1="295.20" x2="396.10" y2="295.20" stroke="#6c6c6c" stroke-width="1.7"/>
<path d="M379.55 281.75L379.55 287.25M377.17 283.12L381.93 285.88M377.17 285.88L381.93 283.12" stroke="#000" stroke-width="1.05" fill="none"/>
<circle cx="379.55" cy="284.50" r="1.05" fill="#000"/>
<text transform="translate(245.90,339.70) rotate(-90)" x="-0.84" y="0" font-size="11.19" textLength="46.78" lengthAdjust="spacingAndGlyphs" fill="#000">NEUT (%)</text>
<text x="461.94" y="215.80" font-size="14.68" textLength="9.32" lengthAdjust="spacingAndGlyphs" fill="#000">F.</text>
<line x1="508.80" y1="228.60" x2="508.80" y2="404.90" stroke="#000" stroke-width="2.0"/>
<line x1="507.80" y1="403.90" x2="685.00" y2="403.90" stroke="#000" stroke-width="2.0"/>
<line x1="502.10" y1="229.90" x2="508.80" y2="229.90" stroke="#000" stroke-width="2.0"/>
<text x="487.61" y="234.10" font-size="11.05" textLength="12.53" lengthAdjust="spacingAndGlyphs" fill="#000">80</text>
<line x1="502.10" y1="268.65" x2="508.80" y2="268.65" stroke="#000" stroke-width="2.0"/>
<text x="487.52" y="272.85" font-size="11.05" textLength="12.63" lengthAdjust="spacingAndGlyphs" fill="#000">70</text>
<line x1="502.10" y1="307.40" x2="508.80" y2="307.40" stroke="#000" stroke-width="2.0"/>
<text x="487.52" y="311.60" font-size="11.05" textLength="12.62" lengthAdjust="spacingAndGlyphs" fill="#000">60</text>
<line x1="502.10" y1="346.15" x2="508.80" y2="346.15" stroke="#000" stroke-width="2.0"/>
<text x="487.65" y="350.35" font-size="11.05" textLength="12.49" lengthAdjust="spacingAndGlyphs" fill="#000">50</text>
<line x1="502.10" y1="384.90" x2="508.80" y2="384.90" stroke="#000" stroke-width="2.0"/>
<text x="487.85" y="389.10" font-size="11.05" textLength="12.28" lengthAdjust="spacingAndGlyphs" fill="#000">40</text>
<line x1="530.70" y1="403.90" x2="530.70" y2="411.50" stroke="#000" stroke-width="2.0"/>
<line x1="563.90" y1="403.90" x2="563.90" y2="411.50" stroke="#000" stroke-width="2.0"/>
<line x1="596.40" y1="403.90" x2="596.40" y2="411.50" stroke="#000" stroke-width="2.0"/>
<line x1="629.00" y1="403.90" x2="629.00" y2="411.50" stroke="#000" stroke-width="2.0"/>
<line x1="662.10" y1="403.90" x2="662.10" y2="411.50" stroke="#000" stroke-width="2.0"/>
<line x1="530.90" y1="254.90" x2="530.90" y2="262.20" stroke="#1a1a1a" stroke-width="1.15"/>
<line x1="526.00" y1="254.90" x2="536.50" y2="254.90" stroke="#111" stroke-width="1.3"/>
<rect x="520.20" y="262.20" width="21.40" height="142.70" fill="#000"/>
<line x1="564.00" y1="342.50" x2="564.00" y2="367.30" stroke="#1a1a1a" stroke-width="1.15"/>
<line x1="558.40" y1="342.50" x2="569.30" y2="342.50" stroke="#111" stroke-width="1.3"/>
<rect x="554.00" y="367.30" width="20.00" height="36.60" fill="#fff" stroke="#000" stroke-width="1.85"/>
<line x1="596.55" y1="273.80" x2="596.55" y2="285.20" stroke="#1a1a1a" stroke-width="1.15"/>
<line x1="591.20" y1="273.80" x2="601.70" y2="273.80" stroke="#111" stroke-width="1.3"/>
<rect x="586.50" y="285.20" width="20.10" height="118.70" fill="#fff" stroke="#000" stroke-width="1.85"/>
<line x1="629.25" y1="245.70" x2="629.25" y2="262.10" stroke="#1a1a1a" stroke-width="1.15"/>
<line x1="623.80" y1="245.70" x2="634.50" y2="245.70" stroke="#111" stroke-width="1.3"/>
<rect x="619.30" y="262.10" width="19.90" height="141.80" fill="#fff" stroke="#000" stroke-width="1.85"/>
<line x1="661.95" y1="254.10" x2="661.95" y2="257.40" stroke="#1a1a1a" stroke-width="1.15"/>
<line x1="656.90" y1="254.10" x2="666.60" y2="254.10" stroke="#111" stroke-width="1.3"/>
<rect x="651.90" y="257.40" width="20.10" height="146.50" fill="#fff" stroke="#000" stroke-width="1.85"/>
<text x="523.78" y="425.20" font-size="11.34" textLength="14.87" lengthAdjust="spacingAndGlyphs" fill="#000">NT</text>
<text x="556.06" y="425.20" font-size="11.34" textLength="14.71" lengthAdjust="spacingAndGlyphs" fill="#000">D1</text>
<text x="588.97" y="425.20" font-size="11.34" textLength="14.53" lengthAdjust="spacingAndGlyphs" fill="#000">D3</text>
<text x="621.46" y="425.20" font-size="11.34" textLength="14.64" lengthAdjust="spacingAndGlyphs" fill="#000">D6</text>
<text x="651.81" y="425.20" font-size="11.34" textLength="19.80" lengthAdjust="spacingAndGlyphs" fill="#000">D14</text>
<line x1="564.10" y1="431.40" x2="662.10" y2="431.40" stroke="#222" stroke-width="1.25"/>
<text x="599.87" y="441.80" font-size="11.05" textLength="24.85" lengthAdjust="spacingAndGlyphs" fill="#000">OTM</text>
<line x1="531.30" y1="250.10" x2="563.30" y2="250.10" stroke="#6c6c6c" stroke-width="1.7"/>
<path d="M541.55 238.75L541.55 244.25M539.17 240.12L543.93 242.88M539.17 242.88L543.93 240.12" stroke="#000" stroke-width="1.05" fill="none"/>
<circle cx="541.55" cy="241.50" r="1.05" fill="#000"/>
<path d="M548.00 238.75L548.00 244.25M545.62 240.12L550.38 242.88M545.62 242.88L550.38 240.12" stroke="#000" stroke-width="1.05" fill="none"/>
<circle cx="548.00" cy="241.50" r="1.05" fill="#000"/>
<path d="M554.45 238.75L554.45 244.25M552.07 240.12L556.83 242.88M552.07 242.88L556.83 240.12" stroke="#000" stroke-width="1.05" fill="none"/>
<circle cx="554.45" cy="241.50" r="1.05" fill="#000"/>
<line x1="564.10" y1="263.20" x2="588.60" y2="263.20" stroke="#6c6c6c" stroke-width="1.7"/>
<path d="M573.05 251.75L573.05 257.25M570.67 253.12L575.43 255.88M570.67 255.88L575.43 253.12" stroke="#000" stroke-width="1.05" fill="none"/>
<circle cx="573.05" cy="254.50" r="1.05" fill="#000"/>
<path d="M579.65 251.75L579.65 257.25M577.27 253.12L582.03 255.88M577.27 255.88L582.03 253.12" stroke="#000" stroke-width="1.05" fill="none"/>
<circle cx="579.65" cy="254.50" r="1.05" fill="#000"/>
<line x1="597.00" y1="242.20" x2="662.10" y2="242.20" stroke="#6c6c6c" stroke-width="1.7"/>
<path d="M629.40 229.75L629.40 235.25M627.02 231.12L631.78 233.88M627.02 233.88L631.78 231.12" stroke="#000" stroke-width="1.05" fill="none"/>
<circle cx="629.40" cy="232.50" r="1.05" fill="#000"/>
<text transform="translate(479.40,341.60) rotate(-90)" x="-0.80" y="0" font-size="11.34" textLength="51.40" lengthAdjust="spacingAndGlyphs" fill="#000">LYMPH (%)</text>
</svg>
</body></html>
